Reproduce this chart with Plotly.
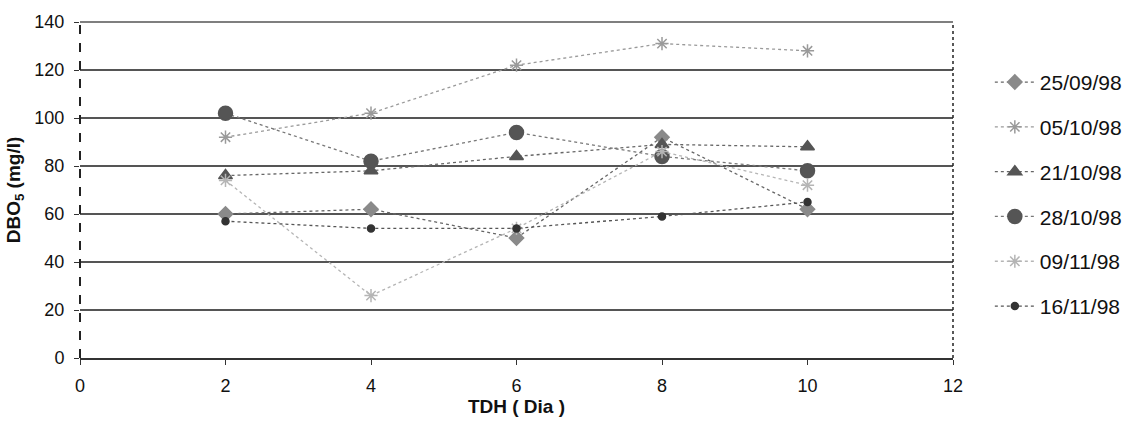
import plotly.graph_objects as go

tdh = [2, 4, 6, 8, 10]
series_names = ["25/09/98", "05/10/98", "21/10/98", "28/10/98", "09/11/98", "16/11/98"]
s_2509 = [60, 62, 50, 92, 62]
s_0510 = [92, 102, 122, 131, 128]
s_2110 = [76, 78, 84, 89, 88]
s_2810 = [102, 82, 94, 84, 78]
s_0911 = [74, 26, 54, 86, 72]
s_1611 = [57, 54, 54, 59, 65]
x_ticks = [0, 2, 4, 6, 8, 10, 12]
y_ticks = [0, 20, 40, 60, 80, 100, 120, 140]

values = [s_2509, s_0510, s_2110, s_2810, s_0911, s_1611]
styles = [
    dict(symbol="diamond", size=11, color="#8a8a8a", lc="#666666"),
    dict(symbol="asterisk-open", size=11, color="#9a9a9a", lc="#9a9a9a"),
    dict(symbol="triangle-up", size=12, color="#555555", lc="#666666"),
    dict(symbol="circle", size=14, color="#555555", lc="#777777"),
    dict(symbol="asterisk-open", size=11, color="#b5b5b5", lc="#b5b5b5"),
    dict(symbol="circle", size=7, color="#333333", lc="#555555"),
]

fig = go.Figure()
for i, (name, vals, st) in enumerate(zip(series_names, values, styles)):
    fig.add_trace(go.Scatter(
        x=tdh, y=vals, name=name, mode="lines+markers",
        legendgroup=str(i),
        line=dict(color=st["lc"], width=1.3, dash="dot"),
        marker=dict(symbol=st["symbol"], size=st["size"], color=st["color"],
                    line=dict(color=st["color"], width=1.5)),
    ))

fig.update_layout(
    width=1143, height=427,
    margin=dict(l=80, r=190, t=22, b=69),
    paper_bgcolor="white", plot_bgcolor="white",
    font=dict(family="Liberation Sans, Arial, sans-serif", color="#111111", size=18),
    showlegend=True,
    legend=dict(xref="container", yref="container", x=0.866, y=0.855,
                xanchor="left", yanchor="top",
                font=dict(size=21, color="#111111"),
                tracegroupgap=14.5, itemwidth=40, maxheight=1.0,
                bgcolor="rgba(0,0,0,0)"),
    xaxis=dict(range=[0, 12], tickvals=x_ticks, ticktext=[str(v) for v in x_ticks],
               showgrid=False, zeroline=False, showline=True, linecolor="#333333",
               linewidth=1.5, ticks="outside", ticklen=5, tickcolor="#333333",
               tickfont=dict(size=18), ticklabelstandoff=6,
               title=dict(text="<b>TDH ( Dia )</b>", font=dict(size=19), standoff=4)),
    yaxis=dict(range=[0, 140], tickvals=y_ticks, ticktext=[str(v) for v in y_ticks],
               showgrid=True, gridcolor="#555555", gridwidth=1.5,
               zeroline=False, showline=False,
               ticks="outside", ticklen=5, tickcolor="#333333",
               tickfont=dict(size=18), ticklabelstandoff=6,
               title=dict(text="<b>DBO<sub>5</sub> (mg/l)</b>", font=dict(size=19), standoff=8)),
)

# plot frame
fig.add_shape(type="line", xref="paper", yref="paper", x0=0, x1=1, y0=1, y1=1,
              line=dict(color="#555555", width=1.5))
fig.add_shape(type="line", xref="paper", yref="paper", x0=0, x1=0, y0=0, y1=1,
              line=dict(color="#222222", width=2, dash="dash"))
fig.add_shape(type="line", xref="paper", yref="paper", x0=1, x1=1, y0=0, y1=1,
              line=dict(color="#222222", width=1.5, dash="dot"))

fig.write_html("out.html")
